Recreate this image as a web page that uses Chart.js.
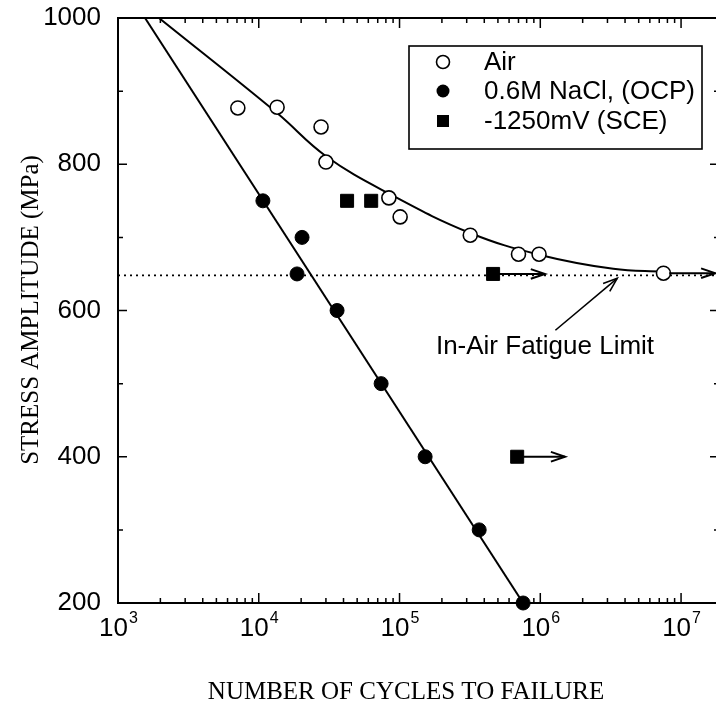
<!DOCTYPE html>
<html><head><meta charset="utf-8">
<script src="https://cdn.jsdelivr.net/npm/chart.js@4/dist/chart.umd.min.js"></script>
<style>html,body{margin:0;padding:0;background:#fff;overflow:hidden}#wrap{position:absolute;left:0;top:0;width:740px;height:717px}</style>
</head><body><div id="wrap"><canvas id="c" width="740" height="717"></canvas></div>
<script>
// ---- data ----
const airCycles   = [7100, 13500, 27700, 30000, 84000, 101000, 318000, 700000, 980000, 7500000];
const airStress   = [877, 878, 851, 803, 754, 728, 703, 677, 677, 651];
const naclCycles  = [10700, 20300, 18700, 36000, 74000, 152000, 368000, 755000];
const naclStress  = [750, 700, 650, 600, 500, 400, 300, 200];
const sceCycles   = [42400, 62900, 462000, 685000];
const sceStress   = [750, 750, 650, 400];
const airFitCycles = [1956, 13490, 30060, 85700, 317600, 997000, 3300000, 7470000];
const airFitStress = [1000, 870, 811, 759, 706, 676, 657, 653];
const naclFitCycles = [1556, 755000];
const naclFitStress = [1000, 200];
const fatigueLimitStress = 648;
const fatigueLimitCycles = [1000, 18600000];
const runoutStartCycles = [462000, 685000, 7470000];
const runoutStartStress = [650, 400, 651];
const runoutEndCycles   = [1080000, 1500000, 17500000];
const yTicks = [200, 400, 600, 800, 1000];
const yMinorTicks = [300, 500, 700, 900];
const xExponents = [3, 4, 5, 6, 7];
const legendLabels = ['Air', '0.6M NaCl, (OCP)', '-1250mV (SCE)'];
const yTitle = 'STRESS AMPLITUDE (MPa)';
const xTitle = 'NUMBER OF CYCLES TO FAILURE';
const noteText = 'In-Air Fatigue Limit';
const noteTextPos = [1080000, 550];
const noteArrowFrom = [1280000, 573];
const noteArrowTo = [3520000, 644];
// ---------------------------------------

const SANS = "'Liberation Sans', Arial, sans-serif";
const SERIF = "'Liberation Serif', 'Times New Roman', serif";
const toXY = (xs, ys) => xs.map((x, i) => ({x, y: ys[i]}));

function chevron(ctx, x, y, ang, len, spread) {
  ctx.beginPath();
  ctx.moveTo(x - len * Math.cos(ang - spread), y - len * Math.sin(ang - spread));
  ctx.lineTo(x, y);
  ctx.lineTo(x - len * Math.cos(ang + spread), y - len * Math.sin(ang + spread));
  ctx.stroke();
}

const decor = {
  id: 'decor',
  afterDatasetsDraw(chart) {
    const ctx = chart.ctx, a = chart.chartArea, xs = chart.scales.x, ys = chart.scales.y;
    ctx.save();
    ctx.strokeStyle = '#000'; ctx.fillStyle = '#000';
    // frame
    ctx.lineWidth = 2;
    ctx.strokeRect(a.left, a.top, a.right - a.left, a.bottom - a.top);
    // x ticks (inward, bottom and top)
    ctx.lineWidth = 1.5;
    for (let e = 3; e <= 7; e++) {
      for (let m = 1; m <= 9; m++) {
        const v = m * Math.pow(10, e);
        if (v < xs.min || v > xs.max) continue;
        const p = xs.getPixelForValue(v);
        const L = m === 1 ? 10 : 5;
        ctx.beginPath();
        ctx.moveTo(p, a.bottom); ctx.lineTo(p, a.bottom - L);
        ctx.moveTo(p, a.top); ctx.lineTo(p, a.top + L);
        ctx.stroke();
      }
    }
    // y ticks (inward, left and right)
    yTicks.concat(yMinorTicks).forEach(v => {
      const p = ys.getPixelForValue(v);
      const L = yTicks.includes(v) ? 9 : 5;
      ctx.beginPath();
      ctx.moveTo(a.left, p); ctx.lineTo(a.left + L, p);
      ctx.moveTo(a.right, p); ctx.lineTo(a.right - L, p);
      ctx.stroke();
    });
    // x tick labels 10^n
    ctx.textBaseline = 'alphabetic';
    xExponents.forEach(n => {
      const p = xs.getPixelForValue(Math.pow(10, n));
      ctx.font = '26px ' + SANS;
      const w1 = ctx.measureText('10').width;
      ctx.font = '16px ' + SANS;
      const w2 = ctx.measureText(String(n)).width;
      const x0 = p - (w1 + w2) / 2;
      ctx.font = '26px ' + SANS; ctx.textAlign = 'left';
      ctx.fillText('10', x0, 636);
      ctx.font = '16px ' + SANS;
      ctx.fillText(String(n), x0 + w1 + 1, 623);
    });
    // axis titles
    ctx.font = '25px ' + SERIF; ctx.textAlign = 'center'; ctx.textBaseline = 'middle';
    ctx.fillText(xTitle, 406, 692);
    ctx.save();
    ctx.translate(31, 310); ctx.rotate(-Math.PI / 2);
    ctx.fillText(yTitle, 0, 0);
    ctx.restore();
    // runout arrows
    ctx.lineWidth = 2;
    runoutStartCycles.forEach((c, i) => {
      const x0 = xs.getPixelForValue(c), y0 = ys.getPixelForValue(runoutStartStress[i]);
      const x1 = xs.getPixelForValue(runoutEndCycles[i]);
      ctx.beginPath(); ctx.moveTo(x0 + 6, y0); ctx.lineTo(x1, y0); ctx.stroke();
      chevron(ctx, x1, y0, 0, 15, 0.33);
    });
    // annotation
    ctx.lineWidth = 1.6;
    const fx = xs.getPixelForValue(noteArrowFrom[0]), fy = ys.getPixelForValue(noteArrowFrom[1]);
    const tx = xs.getPixelForValue(noteArrowTo[0]), ty = ys.getPixelForValue(noteArrowTo[1]);
    ctx.beginPath(); ctx.moveTo(fx, fy); ctx.lineTo(tx, ty); ctx.stroke();
    const ang = Math.atan2(ty - fy, tx - fx);
    chevron(ctx, tx, ty, ang, 15, 0.35);
    ctx.font = '26px ' + SANS; ctx.textAlign = 'center'; ctx.textBaseline = 'middle';
    ctx.fillText(noteText, xs.getPixelForValue(noteTextPos[0]), ys.getPixelForValue(noteTextPos[1]));
    // legend
    const lx = 409, ly = 46, lw = 293, lh = 103;
    ctx.lineWidth = 1.6;
    ctx.fillStyle = '#fff'; ctx.fillRect(lx, ly, lw, lh);
    ctx.strokeRect(lx, ly, lw, lh);
    ctx.fillStyle = '#000';
    const rows = [62, 91, 121];
    ctx.font = '26px ' + SANS; ctx.textAlign = 'left'; ctx.textBaseline = 'middle';
    chart.data.datasets.slice(0, 3).forEach((ds, i) => {
      const cx = 443, cy = rows[i];
      ctx.beginPath();
      if (i === 0) { ctx.arc(cx, cy, 6.5, 0, Math.PI * 2); ctx.fillStyle = '#fff'; ctx.fill(); ctx.lineWidth = 1.6; ctx.stroke(); }
      else if (i === 1) { ctx.arc(cx, cy, 6.5, 0, Math.PI * 2); ctx.fillStyle = '#000'; ctx.fill(); }
      else { ctx.fillStyle = '#000'; ctx.fillRect(cx - 6, cy - 6, 12, 12); }
      ctx.fillStyle = '#000';
      ctx.fillText(ds.label, 484, cy + 1);
    });
    ctx.restore();
  }
};

new Chart(document.getElementById('c'), {
  type: 'scatter',
  data: {
    datasets: [
      {label: legendLabels[0], data: toXY(airCycles, airStress), pointStyle: 'circle', pointRadius: 7,
       pointBackgroundColor: '#fff', pointBorderColor: '#000', pointBorderWidth: 1.6, showLine: false, clip: false, order: 0},
      {label: legendLabels[1], data: toXY(naclCycles, naclStress), pointStyle: 'circle', pointRadius: 7,
       pointBackgroundColor: '#000', pointBorderColor: '#000', pointBorderWidth: 1, showLine: false, clip: false, order: 0},
      {label: legendLabels[2], data: toXY(sceCycles, sceStress), pointStyle: 'rect', pointRadius: 9.2,
       pointBackgroundColor: '#000', pointBorderColor: '#000', pointBorderWidth: 1, showLine: false, clip: false, order: 0},
      {label: 'Air fit', data: toXY(airFitCycles, airFitStress), showLine: true, borderColor: '#000', borderWidth: 2,
       pointRadius: 0, tension: 0.4, order: 2},
      {label: 'NaCl fit', data: toXY(naclFitCycles, naclFitStress), showLine: true, borderColor: '#000', borderWidth: 2,
       pointRadius: 0, order: 2},
      {label: 'In-air fatigue limit', data: fatigueLimitCycles.map(x => ({x, y: fatigueLimitStress})), showLine: true,
       borderColor: '#000', borderWidth: 1.8, borderDash: [2, 4], pointRadius: 0, order: 3}
    ]
  },
  options: {
    responsive: false, animation: false, devicePixelRatio: 1,
    layout: {padding: {top: 18, right: 21, left: 0, bottom: 0}},
    plugins: {legend: {display: false}, tooltip: {enabled: false}},
    scales: {
      x: {type: 'logarithmic', min: 1000, max: 18600000,
          afterFit(s) { s.height = 114; s.paddingLeft = 0; s.paddingRight = 0; },
          grid: {display: false}, border: {display: false}, ticks: {display: false}},
      y: {type: 'linear', min: 200, max: 1000,
          afterFit(s) { s.width = 118; s.paddingTop = 0; s.paddingBottom = 0; },
          afterBuildTicks(s) { s.ticks = yTicks.map(v => ({value: v})); },
          grid: {display: false, drawTicks: false}, border: {display: false},
          ticks: {padding: 17, color: '#000', font: {family: SANS, size: 26}, callback: v => String(v)}}
    }
  },
  plugins: [decor]
});
</script></body></html>
